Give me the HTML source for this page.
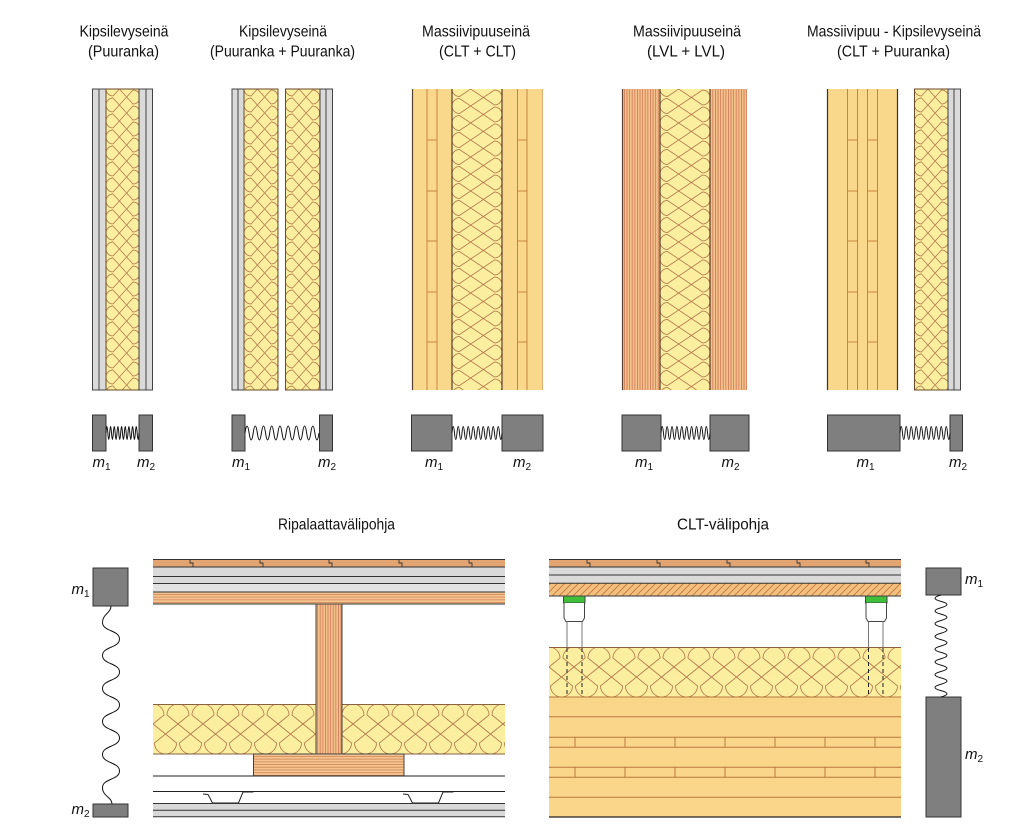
<!DOCTYPE html>
<html><head><meta charset="utf-8"><style>html,body{margin:0;padding:0;background:#fff}svg{display:block}</style></head>
<body>
<svg width="1024" height="834" viewBox="0 0 1024 834" xmlns="http://www.w3.org/2000/svg" font-family="'Liberation Sans', Arial, sans-serif">
<defs>
<pattern id="iW1" patternUnits="userSpaceOnUse" width="16" height="34" patternTransform="matrix(0,1,1,0,106,89)">
 <rect width="16" height="34" fill="#fbee9f"/>
 <path d="M-9 7A7 7 0 0 0 -23 7L-1 27A7 7 0 0 1 -15 27L7 7A7 7 0 0 0 -7 7L15 27A7 7 0 0 1 1 27L23 7A7 7 0 0 0 9 7L31 27A7 7 0 0 1 17 27L39 7" fill="none" stroke="#b07448" stroke-width="0.8"/>
</pattern>
<pattern id="iW2a" patternUnits="userSpaceOnUse" width="16" height="34" patternTransform="matrix(0,1,1,0,244,89)">
 <rect width="16" height="34" fill="#fbee9f"/>
 <path d="M-9 7A7 7 0 0 0 -23 7L-1 27A7 7 0 0 1 -15 27L7 7A7 7 0 0 0 -7 7L15 27A7 7 0 0 1 1 27L23 7A7 7 0 0 0 9 7L31 27A7 7 0 0 1 17 27L39 7" fill="none" stroke="#b07448" stroke-width="0.8"/>
</pattern>
<pattern id="iW2b" patternUnits="userSpaceOnUse" width="16" height="34" patternTransform="matrix(0,1,1,0,285.5,89)">
 <rect width="16" height="34" fill="#fbee9f"/>
 <path d="M-9 7A7 7 0 0 0 -23 7L-1 27A7 7 0 0 1 -15 27L7 7A7 7 0 0 0 -7 7L15 27A7 7 0 0 1 1 27L23 7A7 7 0 0 0 9 7L31 27A7 7 0 0 1 17 27L39 7" fill="none" stroke="#b07448" stroke-width="0.8"/>
</pattern>
<pattern id="iW5" patternUnits="userSpaceOnUse" width="16" height="34" patternTransform="matrix(0,1,1,0,914.5,89)">
 <rect width="16" height="34" fill="#fbee9f"/>
 <path d="M-9 7A7 7 0 0 0 -23 7L-1 27A7 7 0 0 1 -15 27L7 7A7 7 0 0 0 -7 7L15 27A7 7 0 0 1 1 27L23 7A7 7 0 0 0 9 7L31 27A7 7 0 0 1 17 27L39 7" fill="none" stroke="#b07448" stroke-width="0.8"/>
</pattern>
<pattern id="iW3" patternUnits="userSpaceOnUse" width="17" height="50" patternTransform="matrix(0,1,1,0,452,89)">
 <rect width="17" height="50" fill="#fbee9f"/>
 <path d="M-9.5 7.5A7.5 7.5 0 0 0 -24.5 7.5L-1 42.5A7.5 7.5 0 0 1 -16 42.5L7.5 7.5A7.5 7.5 0 0 0 -7.5 7.5L16 42.5A7.5 7.5 0 0 1 1 42.5L24.5 7.5A7.5 7.5 0 0 0 9.5 7.5L33 42.5A7.5 7.5 0 0 1 18 42.5L41.5 7.5" fill="none" stroke="#b07448" stroke-width="0.8"/>
</pattern>
<pattern id="iW4" patternUnits="userSpaceOnUse" width="17" height="50" patternTransform="matrix(0,1,1,0,660,89)">
 <rect width="17" height="50" fill="#fbee9f"/>
 <path d="M-9.5 7.5A7.5 7.5 0 0 0 -24.5 7.5L-1 42.5A7.5 7.5 0 0 1 -16 42.5L7.5 7.5A7.5 7.5 0 0 0 -7.5 7.5L16 42.5A7.5 7.5 0 0 1 1 42.5L24.5 7.5A7.5 7.5 0 0 0 9.5 7.5L33 42.5A7.5 7.5 0 0 1 18 42.5L41.5 7.5" fill="none" stroke="#b07448" stroke-width="0.8"/>
</pattern>
<pattern id="iFL" patternUnits="userSpaceOnUse" width="25" height="50" patternTransform="translate(153,704)">
 <rect width="25" height="50" fill="#fbee9f"/>
 <path d="M-14 11A11 11 0 0 0 -36 11L-1.5 39A11 11 0 0 1 -23.5 39L11 11A11 11 0 0 0 -11 11L23.5 39A11 11 0 0 1 1.5 39L36 11A11 11 0 0 0 14 11L48.5 39A11 11 0 0 1 26.5 39L61 11" fill="none" stroke="#b07448" stroke-width="0.8"/>
</pattern>
<pattern id="iFR" patternUnits="userSpaceOnUse" width="25" height="50" patternTransform="translate(549,647)">
 <rect width="25" height="50" fill="#fbee9f"/>
 <path d="M-14 11A11 11 0 0 0 -36 11L-1.5 39A11 11 0 0 1 -23.5 39L11 11A11 11 0 0 0 -11 11L23.5 39A11 11 0 0 1 1.5 39L36 11A11 11 0 0 0 14 11L48.5 39A11 11 0 0 1 26.5 39L61 11" fill="none" stroke="#b07448" stroke-width="0.8"/>
</pattern>
<pattern id="lvlV" patternUnits="userSpaceOnUse" width="2.6" height="10">
 <rect width="2.6" height="10" fill="#f4c08b"/>
 <line x1="0.4" y1="0" x2="0.4" y2="10" stroke="#cc7a55" stroke-width="0.8"/>
</pattern>
<pattern id="lvlH" patternUnits="userSpaceOnUse" width="10" height="2.7">
 <rect width="10" height="2.7" fill="#f5c490"/>
 <line x1="0" y1="0.4" x2="10" y2="0.4" stroke="#cf8658" stroke-width="0.8"/>
</pattern>
<pattern id="hatch" patternUnits="userSpaceOnUse" width="7" height="7">
 <rect width="7" height="7" fill="#f3c080"/>
 <path d="M0 7L7 0M-1 1L1 -1M6 8L8 6" stroke="#c47636" stroke-width="0.8"/>
</pattern>
</defs>

<rect width="1024" height="834" fill="#fff"/>

<!-- Titles -->
<g fill="#111" font-size="16" text-anchor="middle">
<text x="124" y="36.5" textLength="89" lengthAdjust="spacingAndGlyphs">Kipsilevyseinä</text>
<text x="123.5" y="56.5" textLength="71" lengthAdjust="spacingAndGlyphs">(Puuranka)</text>
<text x="283" y="36.5" textLength="88" lengthAdjust="spacingAndGlyphs">Kipsilevyseinä</text>
<text x="282.5" y="56.5" textLength="145" lengthAdjust="spacingAndGlyphs">(Puuranka + Puuranka)</text>
<text x="476" y="36.5" textLength="108" lengthAdjust="spacingAndGlyphs">Massiivipuuseinä</text>
<text x="477.5" y="56.5" textLength="77" lengthAdjust="spacingAndGlyphs">(CLT + CLT)</text>
<text x="687" y="36.5" textLength="108" lengthAdjust="spacingAndGlyphs">Massiivipuuseinä</text>
<text x="686" y="56.5" textLength="78" lengthAdjust="spacingAndGlyphs">(LVL + LVL)</text>
<text x="894" y="36.5" textLength="174" lengthAdjust="spacingAndGlyphs">Massiivipuu - Kipsilevyseinä</text>
<text x="893.5" y="56.5" textLength="113" lengthAdjust="spacingAndGlyphs">(CLT + Puuranka)</text>
<text x="336.5" y="529.5" textLength="117" lengthAdjust="spacingAndGlyphs">Ripalaattavälipohja</text>
<text x="723" y="529.5" textLength="92" lengthAdjust="spacingAndGlyphs">CLT-välipohja</text>
</g>

<!-- Wall 1 -->
<g stroke="#444" stroke-width="1">
<rect x="92.5" y="89" width="6.5" height="301" fill="#dadada"/>
<rect x="99" y="89" width="7" height="301" fill="#dadada"/>
<rect x="106" y="89" width="33" height="301" fill="url(#iW1)" stroke="#6b4a2a"/>
<rect x="139" y="89" width="7" height="301" fill="#dadada"/>
<rect x="146" y="89" width="6.5" height="301" fill="#dadada"/>
</g>
<!-- Wall 2 -->
<g stroke="#444" stroke-width="1">
<rect x="232" y="89" width="6" height="301" fill="#dadada"/>
<rect x="238" y="89" width="6" height="301" fill="#dadada"/>
<rect x="244" y="89" width="34" height="301" fill="url(#iW2a)" stroke="#6b4a2a"/>
<rect x="285.5" y="89" width="34.5" height="301" fill="url(#iW2b)" stroke="#6b4a2a"/>
<rect x="320" y="89" width="6" height="301" fill="#dadada"/>
<rect x="326" y="89" width="6.5" height="301" fill="#dadada"/>
</g>
<!-- Wall 3 CLT + CLT -->
<rect x="412" y="89" width="40" height="301" fill="#f9d78b"/>
<rect x="502" y="89" width="41" height="301" fill="#f9d78b"/>
<rect x="452" y="89" width="50" height="301" fill="url(#iW3)"/>
<g stroke="#c8843f" stroke-width="1" fill="none">
<path d="M427 89V390M437 89V390M517.5 89V390M527 89V390"/>
<path d="M427 140H437M427 191H437M427 241H437M427 292H437M427 342H437"/>
<path d="M517.5 140H527M517.5 191H527M517.5 241H527M517.5 292H527M517.5 342H527"/>
<path d="M542.5 89V390" stroke="#e0b070"/>
</g>
<path d="M412.5 89V390M452 89V390M502 89V390" stroke="#5a4030" stroke-width="1.2" fill="none"/>
<!-- Wall 4 LVL + LVL -->
<rect x="622" y="89" width="38" height="301" fill="url(#lvlV)"/>
<rect x="710" y="89" width="37" height="301" fill="url(#lvlV)"/>
<rect x="660" y="89" width="50" height="301" fill="url(#iW4)"/>
<path d="M622.5 89V390M660 89V390M710 89V390" stroke="#5a4030" stroke-width="1.2" fill="none"/>
<!-- Wall 5 CLT + Puuranka -->
<rect x="827" y="89" width="71" height="301" fill="#f9d78b"/>
<g stroke="#c8843f" stroke-width="1" fill="none">
<path d="M847.5 89V390M857.5 89V390M867.5 89V390M877.5 89V390"/>
<path d="M847.5 140H857.5M847.5 191H857.5M847.5 241H857.5M847.5 292H857.5M847.5 342H857.5"/>
<path d="M867.5 140H877.5M867.5 191H877.5M867.5 241H877.5M867.5 292H877.5M867.5 342H877.5"/>
</g>
<path d="M827.5 89V390M897.5 89V390" stroke="#333" stroke-width="1.2" fill="none"/>
<g stroke="#444" stroke-width="1">
<rect x="914.5" y="89" width="33.5" height="301" fill="url(#iW5)" stroke="#6b4a2a"/>
<rect x="948" y="89" width="6" height="301" fill="#dadada"/>
<rect x="954" y="89" width="6.5" height="301" fill="#dadada"/>
</g>

<!-- Mass-spring row -->
<g fill="#7f7f7f" stroke="#333" stroke-width="1">
<rect x="92.5" y="415" width="13.5" height="36"/>
<rect x="139" y="415" width="13.5" height="36"/>
<rect x="232" y="415" width="13" height="36"/>
<rect x="319.5" y="415" width="13" height="36"/>
<rect x="411.5" y="415" width="40.5" height="36"/>
<rect x="502" y="415" width="41" height="36"/>
<rect x="622" y="415" width="39" height="36"/>
<rect x="710" y="415" width="39" height="36"/>
<rect x="827.5" y="415" width="72.5" height="36"/>
<rect x="950" y="415" width="12.5" height="36"/>
</g>
<g fill="none" stroke="#111" stroke-width="1">
<path d="M106 433q0.917 -13 1.833 0t1.833 0t1.833 0t1.833 0t1.833 0t1.833 0t1.833 0t1.833 0t1.833 0t1.833 0t1.833 0t1.833 0t1.833 0t1.833 0t1.833 0t1.833 0t1.833 0t1.833 0"/>
<path d="M245 433q2.055 -14 4.11 0t4.11 0t4.11 0t4.11 0t4.11 0t4.11 0t4.11 0t4.11 0t4.11 0t4.11 0t4.11 0t4.11 0t4.11 0t4.11 0t4.11 0t4.11 0t4.11 0t4.11 0"/>
<path d="M452 433q1.25 -13 2.5 0t2.5 0t2.5 0t2.5 0t2.5 0t2.5 0t2.5 0t2.5 0t2.5 0t2.5 0t2.5 0t2.5 0t2.5 0t2.5 0t2.5 0t2.5 0t2.5 0t2.5 0t2.5 0t2.5 0"/>
<path d="M661 433q1.225 -13 2.45 0t2.45 0t2.45 0t2.45 0t2.45 0t2.45 0t2.45 0t2.45 0t2.45 0t2.45 0t2.45 0t2.45 0t2.45 0t2.45 0t2.45 0t2.45 0t2.45 0t2.45 0t2.45 0t2.45 0"/>
<path d="M900 433q1.25 -13 2.5 0t2.5 0t2.5 0t2.5 0t2.5 0t2.5 0t2.5 0t2.5 0t2.5 0t2.5 0t2.5 0t2.5 0t2.5 0t2.5 0t2.5 0t2.5 0t2.5 0t2.5 0t2.5 0t2.5 0"/>
</g>
<g fill="#111" font-size="15" font-style="italic">
<text x="92.5" y="467">m<tspan font-size="10" font-style="normal" dy="3">1</tspan></text>
<text x="137" y="467">m<tspan font-size="10" font-style="normal" dy="3">2</tspan></text>
<text x="232" y="467">m<tspan font-size="10" font-style="normal" dy="3">1</tspan></text>
<text x="318" y="467">m<tspan font-size="10" font-style="normal" dy="3">2</tspan></text>
<text x="425" y="467">m<tspan font-size="10" font-style="normal" dy="3">1</tspan></text>
<text x="513" y="467">m<tspan font-size="10" font-style="normal" dy="3">2</tspan></text>
<text x="635" y="467">m<tspan font-size="10" font-style="normal" dy="3">1</tspan></text>
<text x="721.5" y="467">m<tspan font-size="10" font-style="normal" dy="3">2</tspan></text>
<text x="856.5" y="467">m<tspan font-size="10" font-style="normal" dy="3">1</tspan></text>
<text x="949" y="467">m<tspan font-size="10" font-style="normal" dy="3">2</tspan></text>
<text x="71.5" y="594">m<tspan font-size="10" font-style="normal" dy="3">1</tspan></text>
<text x="71.5" y="814">m<tspan font-size="10" font-style="normal" dy="3">2</tspan></text>
<text x="965" y="584">m<tspan font-size="10" font-style="normal" dy="3">1</tspan></text>
<text x="965" y="759">m<tspan font-size="10" font-style="normal" dy="3">2</tspan></text>
</g>

<!-- LEFT FLOOR: Ripalaatta -->
<rect x="153" y="559" width="352" height="8" fill="#e2a572"/>
<rect x="153" y="567" width="352" height="16.5" fill="#dadada"/>
<rect x="153" y="583.5" width="352" height="8.5" fill="#e2e2e2"/>
<rect x="153" y="592" width="352" height="12" fill="url(#lvlH)"/>
<g stroke="#333" stroke-width="1" fill="none">
<path d="M153 559.5H505M153 567H505M153 576.5H505M153 583.5H505M153 592H505M153 604H505"/>
<path d="M190 559.5v3.5h3v4M260 559.5v3.5h3v4M329 559.5v3.5h3v4M399 559.5v3.5h3v4M469 559.5v3.5h3v4" stroke-width="0.9"/>
</g>
<rect x="153" y="704" width="352" height="50" fill="url(#iFL)"/>
<path d="M153 704.5H505M153 754H505" stroke="#8a6040" stroke-width="1"/>
<rect x="316" y="604" width="26" height="150" fill="url(#lvlV)" stroke="#444" stroke-width="1"/>
<rect x="253.5" y="754" width="150.5" height="22" fill="url(#lvlH)" stroke="#444" stroke-width="1"/>
<g stroke="#222" stroke-width="1" fill="none">
<path d="M153 776H505M153 791.5H505"/>
<path d="M203 794L208 794.5L212.5 803L238.5 803L243 792L253.5 792"/>
<path d="M403 794L408 794.5L412.5 803L438.5 803L443 792L453.5 792"/>
</g>
<rect x="153" y="803.5" width="352" height="13.5" fill="#d8d8d8"/>
<path d="M153 803.5H505M153 810.2H505M153 816.8H505" stroke="#333" stroke-width="1"/>

<!-- Left mass-spring -->
<rect x="93" y="568" width="35" height="38" fill="#7f7f7f" stroke="#333"/>
<rect x="93" y="804" width="35" height="13" fill="#7f7f7f" stroke="#333"/>
<path d="M111 606C111 613 102.5 614 102.5 622.5C102.5 631.5 119.5 630 119.5 639S102.5 646.5 102.5 655.5S119.5 663 119.5 672S102.5 679.5 102.5 688.5S119.5 696 119.5 705S102.5 712.5 102.5 721.5S119.5 729 119.5 738S102.5 745.5 102.5 754.5S119.5 762 119.5 771S102.5 778.5 102.5 787.5S112 797 112 804" fill="none" stroke="#111" stroke-width="1"/>

<!-- RIGHT FLOOR: CLT -->
<rect x="549" y="559" width="352" height="8" fill="#e2a572"/>
<rect x="549" y="567" width="352" height="16" fill="#dadada"/>
<rect x="549" y="583" width="352" height="13" fill="url(#hatch)"/>
<g stroke="#333" stroke-width="1" fill="none">
<path d="M549 559.5H901M549 567H901M549 575H901M549 583.3H901M549 596H901"/>
<path d="M587 559.5v3.5h3v4M657 559.5v3.5h3v4M727 559.5v3.5h3v4M797 559.5v3.5h3v4M866 559.5v3.5h3v4" stroke-width="0.9"/>
</g>
<rect x="549" y="647" width="352" height="50" fill="url(#iFR)"/>
<path d="M549 647.5H901" stroke="#8a6040" stroke-width="1"/>
<!-- supports -->
<g stroke="#444" stroke-width="1">
<rect x="563.5" y="596" width="21.5" height="7" fill="#3fbf3a"/>
<path d="M564 603V618L566 621.5H582.5L584.5 618V603" fill="#fff"/>
<rect x="865.5" y="596" width="21.5" height="7" fill="#3fbf3a"/>
<path d="M866 603V618L868 621.5H884.5L886.5 618V603" fill="#fff"/>
</g>
<g stroke="#777" stroke-width="1" fill="none">
<path d="M567 621.5V647M582 621.5V647M868.5 621.5V647M883 621.5V647"/>
</g>
<g stroke="#222" stroke-width="1" fill="none" stroke-dasharray="4 3">
<path d="M567 648V697M582 648V697M868.5 648V697M883 648V697"/>
</g>
<!-- CLT slab -->
<rect x="549" y="697" width="352" height="120" fill="#f9d68a"/>
<g stroke="#b9793e" stroke-width="1" fill="none">
<path d="M549 697H901M549 716.7H901M549 737.3H901M549 747.3H901M549 767.3H901M549 777.3H901M549 797.3H901"/>
<path d="M575 737.3V747.3M625 737.3V747.3M675 737.3V747.3M725 737.3V747.3M775 737.3V747.3M825 737.3V747.3M875 737.3V747.3"/>
<path d="M575 767.3V777.3M625 767.3V777.3M675 767.3V777.3M725 767.3V777.3M775 767.3V777.3M825 767.3V777.3M875 767.3V777.3"/>
</g>
<path d="M549 817H901" stroke="#222" stroke-width="1.2"/>

<!-- Right mass-spring -->
<rect x="926" y="568" width="35" height="27" fill="#7f7f7f" stroke="#333"/>
<rect x="926" y="697" width="35" height="120" fill="#7f7f7f" stroke="#333"/>
<path d="M941 595q-12 3.19 0 6.375t0 6.375t0 6.375t0 6.375t0 6.375t0 6.375t0 6.375t0 6.375t0 6.375t0 6.375t0 6.375t0 6.375t0 6.375t0 6.375t0 6.375t0 6.375" fill="none" stroke="#111" stroke-width="1"/>
</svg>
</body></html>
